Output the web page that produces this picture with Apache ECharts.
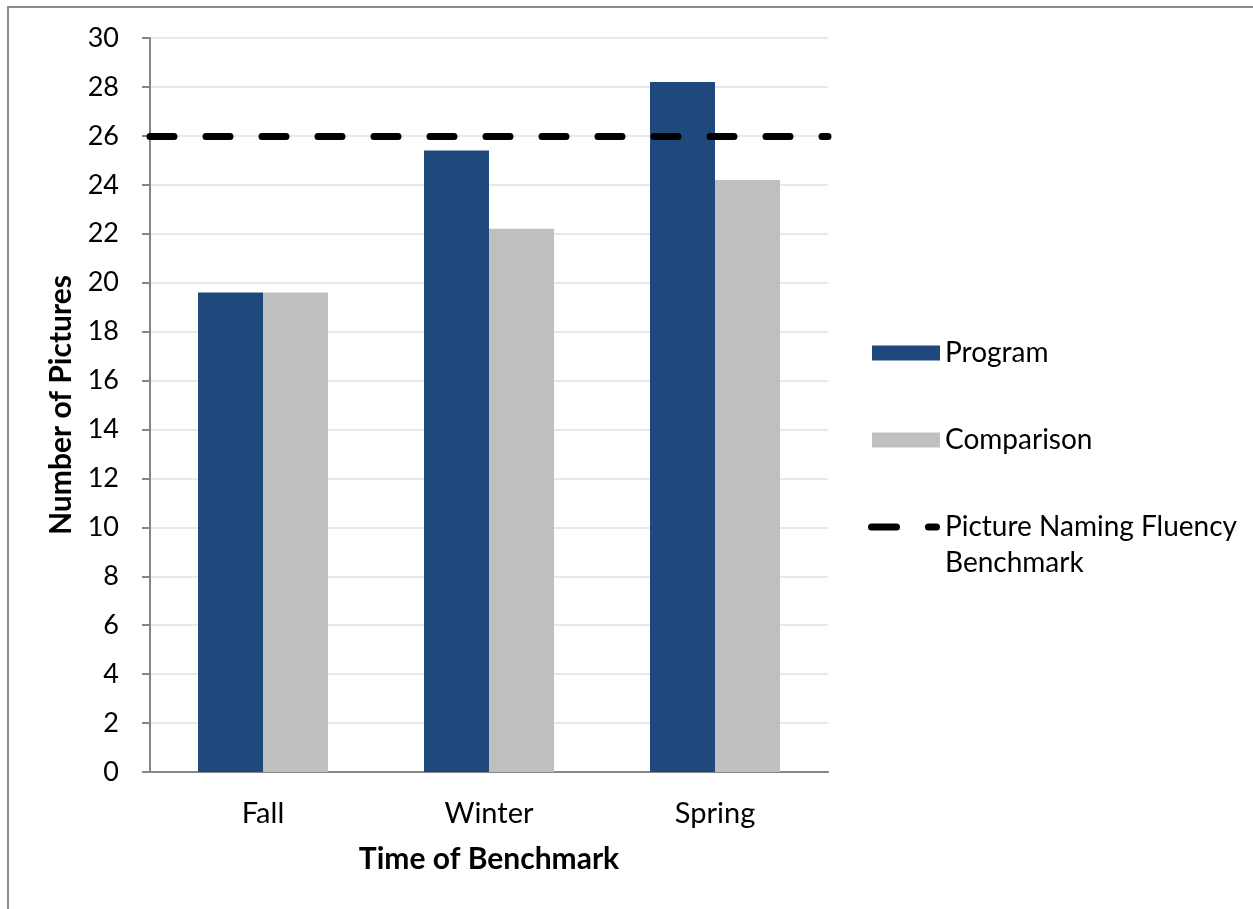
<!DOCTYPE html>
<html>
<head>
<meta charset="utf-8">
<script src="https://cdn.jsdelivr.net/npm/echarts@6/dist/echarts.min.js"></script>
<style>
  html, body { margin: 0; padding: 0; background: #fff; }
  #frame { position: absolute; left: 7px; top: 6px; width: 1300px; height: 960px; border: 2px solid #8c8c8c; box-sizing: border-box; }
  #chart { position: absolute; left: 0; top: 0; width: 1253px; height: 909px; }
</style>
</head>
<body>
<div id="frame"></div>
<div id="chart"></div>
<script>
// 数据
const categories = ["Fall", "Winter", "Spring"];
const programValues = [19.6, 25.4, 28.2];
const comparisonValues = [19.6, 22.2, 24.2];
const benchmarkValue = 26;
const seriesNames = ["Program", "Comparison", "Picture Naming Fluency Benchmark"];

const FONT = "Lato";

// 图例里的虚线图标（两段圆头短线）
const dashIcon =
    "path://M3.5,0 L28.5,0 A3.5,3.5 0 0 1 28.5,7 L3.5,7 A3.5,3.5 0 0 1 3.5,0 Z " +
    "M60.5,0 L68.5,0 A3.5,3.5 0 0 1 68.5,7 L60.5,7 A3.5,3.5 0 0 1 60.5,0 Z";

let myChart = echarts.init(document.getElementById("chart"));

const legendText = {
    fontFamily: FONT,
    fontSize: 28,
    color: "#000",
    lineHeight: 36,
};

let option = {
    animation: false,
    grid: {
        left: 150,
        right: 425,
        top: 38,
        bottom: 137,
    },
    legend: [
        {
            orient: "vertical",
            left: 872,
            top: 335,
            padding: 0,
            itemWidth: 68,
            itemHeight: 15,
            itemGap: 51,
            selectedMode: false,
            textStyle: legendText,
            data: [
                { name: seriesNames[0], icon: "rect" },
                { name: seriesNames[1], icon: "rect" },
            ],
        },
        {
            // 第二行文字放在图标下面
            orient: "vertical",
            left: 868,
            top: 473,
            padding: 0,
            itemWidth: 72,
            itemHeight: 7,
            selectedMode: false,
            textStyle: legendText,
            itemStyle: { color: "#000", opacity: 1 },
            data: [{ name: seriesNames[2], icon: dashIcon }],
            formatter: function () {
                return " \nPicture Naming Fluency\nBenchmark";
            },
        },
    ],
    xAxis: {
        type: "category",
        data: categories,
        name: "Time of Benchmark",
        nameLocation: "middle",
        nameGap: 72,
        nameTextStyle: {
            fontFamily: FONT,
            fontSize: 30,
            fontWeight: "bold",
            color: "#000",
        },
        axisLine: { lineStyle: { color: "#868686", width: 2 } },
        axisTick: { length: 8, lineStyle: { color: "#868686", width: 2 } },
        axisLabel: {
            fontFamily: FONT,
            fontSize: 29,
            color: "#000",
            margin: 27,
        },
    },
    yAxis: {
        type: "value",
        min: 0,
        max: 30,
        interval: 2,
        name: "Number of Pictures",
        nameLocation: "middle",
        nameGap: 72,
        nameTextStyle: {
            fontFamily: FONT,
            fontSize: 30,
            fontWeight: "bold",
            color: "#000",
        },
        axisLine: { show: true, lineStyle: { color: "#868686", width: 2 } },
        axisTick: { show: true, length: 8, lineStyle: { color: "#868686", width: 2 } },
        axisLabel: {
            fontFamily: FONT,
            fontSize: 27,
            color: "#000",
            margin: 31,
        },
        // 网格线
        splitLine: { lineStyle: { color: "#e8e8e8", width: 2 } },
    },
    series: [
        {
            name: seriesNames[0],
            type: "bar",
            data: programValues,
            barWidth: 65,
            barGap: "0%",
            itemStyle: { color: "#1f497d" },
        },
        {
            name: seriesNames[1],
            type: "bar",
            data: comparisonValues,
            barWidth: 65,
            barGap: "0%",
            itemStyle: { color: "#bfbfbf" },
        },
        {
            // 基准线
            name: seriesNames[2],
            type: "scatter",
            data: [],
            itemStyle: { color: "#000", opacity: 1 },
            markLine: {
                silent: true,
                symbol: ["none", "none"],
                label: { show: false },
                lineStyle: { color: "#000", width: 7, type: [24, 32], cap: "round" },
                data: [{ yAxis: benchmarkValue }],
            },
        },
    ],
};

myChart.setOption(option);
window.addEventListener("resize", function () {
    myChart.resize();
});
</script>
</body>
</html>
